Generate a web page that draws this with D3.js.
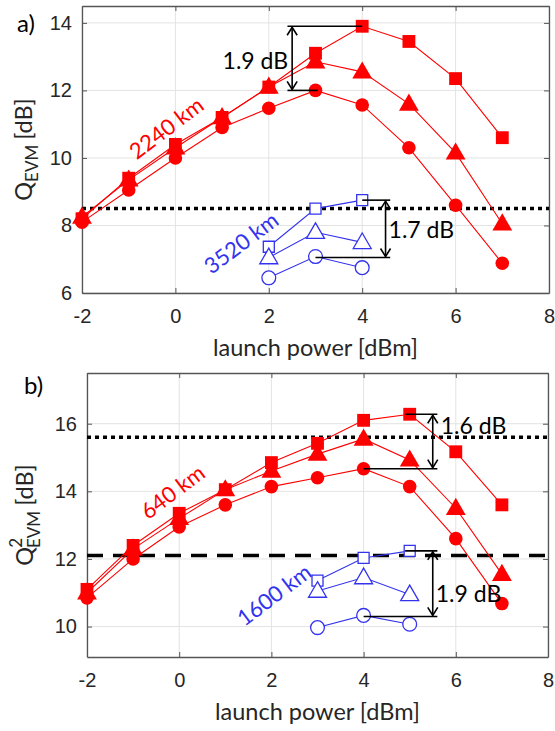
<!DOCTYPE html>
<html>
<head>
<meta charset="utf-8">
<script src="https://cdn.jsdelivr.net/npm/d3@7"></script>
<style>
  body { margin: 0; background: #fff; }
  text { font-family: "Liberation Sans", Arial, sans-serif; }
  .lbl { font-family: Lato, "Open Sans", sans-serif; }
</style>
</head>
<body>
<div id="chart"></div>
<script>
// launch powers [dBm]
const powerRed = [-2, -1, 0, 1, 2, 3, 4, 5, 6, 7];
const powerBlueA = [2, 3, 4];
const powerBlueB = [3, 4, 5];
const xTicks = [-2, 0, 2, 4, 6, 8];

// panel a) Q_EVM, 2240 km (red) and 3520 km (blue)
const a2240Square = [8.2, 9.4, 10.4, 11.2, 12.1, 13.1, 13.9, 13.45, 12.35, 10.6];
const a2240Tri = [8.25, 9.35, 10.3, 11.2, 12.1, 12.85, 12.55, 11.6, 10.15, 8.05];
const a2240Circle = [8.1, 9.05, 10.0, 10.9, 11.47, 12.0, 11.57, 10.3, 8.6, 6.88];
const a3520Square = [7.37, 8.5, 8.75];
const a3520Tri = [7.05, 7.8, 7.5];
const a3520Circle = [6.45, 7.08, 6.75];
const aTicks = [6, 8, 10, 12, 14];
const aLimit = 8.5;

// panel b) Q^2_EVM, 640 km (red) and 1600 km (blue)
const b640Square = [11.1, 12.4, 13.35, 14.05, 14.85, 15.42, 16.1, 16.28, 15.17, 13.6];
const b640Tri = [11.0, 12.3, 13.2, 14.05, 14.6, 15.1, 15.55, 14.93, 13.5, 11.55];
const b640Circle = [10.85, 12.0, 12.95, 13.6, 14.14, 14.4, 14.67, 14.14, 12.6, 10.68];
const b1600Square = [11.36, 12.03, 12.24];
const b1600Tri = [11.05, 11.45, 10.95];
const b1600Circle = [9.97, 10.33, 10.07];
const bTicks = [10, 12, 14, 16];
const bLimitDot = 15.6;
const bLimitDash = 12.1;

const W = 555, H = 731;
const red = "#ff0000", blue = "#3333ee";

const svg = d3.select("#chart").append("svg")
  .attr("width", W).attr("height", H);

function drawPanel(p) {
  const x = d3.scaleLinear().domain([-2, 8]).range([p.left, p.right]);
  const y = d3.scaleLinear().domain(p.yDomain).range([p.bottom, p.top]);
  const g = svg.append("g");

  // grid
  g.selectAll(".gx").data(xTicks).join("line")
    .attr("x1", d => x(d)).attr("x2", d => x(d))
    .attr("y1", p.top).attr("y2", p.bottom)
    .attr("stroke", "#e3e3e3").attr("stroke-width", 1);
  g.selectAll(".gy").data(p.yTicks).join("line")
    .attr("x1", p.left).attr("x2", p.right)
    .attr("y1", d => y(d)).attr("y2", d => y(d))
    .attr("stroke", "#e3e3e3").attr("stroke-width", 1);

  // axes (ticks inward, box on)
  const fmt = d => String(d); // plain hyphen minus like the original
  const ax = g.append("g").attr("transform", `translate(0,${p.bottom})`)
    .call(d3.axisBottom(x).tickValues(xTicks).tickFormat(fmt).tickSizeInner(-5).tickSizeOuter(0).tickPadding(16));
  const ay = g.append("g").attr("transform", `translate(${p.left},0)`)
    .call(d3.axisLeft(y).tickValues(p.yTicks).tickFormat(fmt).tickSizeInner(-5).tickSizeOuter(0).tickPadding(10));
  const axTop = g.append("g").attr("transform", `translate(0,${p.top})`)
    .call(d3.axisTop(x).tickValues(xTicks).tickSizeInner(-5).tickSizeOuter(0).tickFormat(""));
  const ayR = g.append("g").attr("transform", `translate(${p.right},0)`)
    .call(d3.axisRight(y).tickValues(p.yTicks).tickSizeInner(-5).tickSizeOuter(0).tickFormat(""));
  [ax, ay, axTop, ayR].forEach(a => {
    a.select(".domain").attr("stroke", "#555").attr("stroke-width", 1.3);
    a.selectAll(".tick line").attr("stroke", "#555");
    a.selectAll(".tick text").attr("font-size", 20).attr("fill", "#262626")
      .style("font-family", "'Liberation Sans', Arial, sans-serif");
  });

  // reference lines
  p.hlines.forEach(h => {
    g.append("line")
      .attr("x1", p.left).attr("x2", p.right)
      .attr("y1", y(h.v)).attr("y2", y(h.v))
      .attr("stroke", "#000").attr("stroke-width", 3.5)
      .attr("stroke-dasharray", h.dash);
  });

  // series
  const line = d3.line().x(d => x(d[0])).y(d => y(d[1]));
  p.series.forEach(s => {
    const pts = s.xs.map((v, i) => [v, s.ys[i]]);
    g.append("path").datum(pts)
      .attr("d", line).attr("fill", "none")
      .attr("stroke", s.color).attr("stroke-width", 1.1);
    const sym = d3.symbol().type(s.shape).size(s.size);
    g.selectAll(null).data(pts).join("path")
      .attr("d", sym)
      .attr("transform", d => `translate(${x(d[0])},${y(d[1]) + (s.shape === d3.symbolTriangle ? 1 : 0)})`)
      .attr("fill", s.filled ? s.color : "#fff")
      .attr("stroke", s.color).attr("stroke-width", s.filled ? 0 : 1.3);
  });

  // dB difference annotations
  p.arrows.forEach(a => {
    const xa = x(a.x);
    g.append("line").attr("x1", x(a.top[0])).attr("x2", x(a.top[1]))
      .attr("y1", y(a.y1)).attr("y2", y(a.y1)).attr("stroke", "#000").attr("stroke-width", 1.6);
    g.append("line").attr("x1", x(a.bot[0])).attr("x2", x(a.bot[1]))
      .attr("y1", y(a.y0)).attr("y2", y(a.y0)).attr("stroke", "#000").attr("stroke-width", 1.6);
    g.append("line").attr("x1", xa).attr("x2", xa)
      .attr("y1", y(a.y1) + 1).attr("y2", y(a.y0) - 1).attr("stroke", "#000").attr("stroke-width", 1.6);
    const yt = y(a.y1), yb = y(a.y0);
    g.append("path").attr("d", `M${xa - 5},${yt + 9}L${xa},${yt + 1}L${xa + 5},${yt + 9}`)
      .attr("fill", "none").attr("stroke", "#000").attr("stroke-width", 1.6);
    g.append("path").attr("d", `M${xa - 5},${yb - 9}L${xa},${yb - 1}L${xa + 5},${yb - 9}`)
      .attr("fill", "none").attr("stroke", "#000").attr("stroke-width", 1.6);
    g.append("text").attr("class", "lbl")
      .attr("x", xa + a.dx).attr("y", y(a.ty))
      .attr("text-anchor", a.anchor).attr("dominant-baseline", "central")
      .attr("font-size", 23).attr("fill", "#000").text(a.label);
  });

  // distance labels
  p.dist.forEach(t => {
    g.append("text").attr("class", "lbl")
      .attr("transform", `translate(${x(t.x)},${y(t.y)}) rotate(-37)`)
      .attr("text-anchor", "middle").attr("dominant-baseline", "central")
      .attr("font-size", 22).attr("fill", t.color).text(t.label);
  });

  // x label
  g.append("text").attr("class", "lbl")
    .attr("x", (p.left + p.right) / 2).attr("y", p.bottom + 63)
    .attr("text-anchor", "middle").attr("font-size", 23.5).attr("fill", "#262626")
    .text("launch power [dBm]");

  // y label
  const yl = g.append("text").attr("class", "lbl")
    .attr("transform", `translate(${p.left - p.ylabOff},${(p.top + p.bottom) / 2}) rotate(-90)`)
    .attr("text-anchor", "middle").attr("font-size", 23.5).attr("fill", "#262626");
  yl.append("tspan").text("Q");
  if (p.squared) {
    yl.append("tspan").attr("font-size", 17).attr("dx", -1).attr("dy", -11).text("2");
    yl.append("tspan").attr("font-size", 17).attr("dx", -10).attr("dy", 18).text("EVM");
    yl.append("tspan").attr("dx", 5).attr("dy", -7).text("[dB]");
  } else {
    yl.append("tspan").attr("font-size", 17).attr("dy", 6).text("EVM");
    yl.append("tspan").attr("dx", 5).attr("dy", -6).text("[dB]");
  }

  // panel tag
  g.append("text").attr("class", "lbl")
    .attr("x", p.tag[0]).attr("y", p.tag[1])
    .attr("font-size", 24).attr("fill", "#000").text(p.tagText);
}

drawPanel({
  left: 82, right: 549, top: 6, bottom: 293, ylabOff: 50,
  yDomain: [6, 14.5], yTicks: aTicks,
  hlines: [{ v: aLimit, dash: "4,4" }],
  series: [
    { xs: powerRed, ys: a2240Square, shape: d3.symbolSquare, size: 165, color: red, filled: true },
    { xs: powerRed, ys: a2240Tri, shape: d3.symbolTriangle, size: 170, color: red, filled: true },
    { xs: powerRed, ys: a2240Circle, shape: d3.symbolCircle, size: 145, color: red, filled: true },
    { xs: powerBlueA, ys: a3520Square, shape: d3.symbolSquare, size: 121, color: blue, filled: false },
    { xs: powerBlueA, ys: a3520Tri, shape: d3.symbolTriangle, size: 140, color: blue, filled: false },
    { xs: powerBlueA, ys: a3520Circle, shape: d3.symbolCircle, size: 150, color: blue, filled: false }
  ],
  arrows: [
    { x: 2.5, y1: 13.9, y0: 12.0, top: [2.4, 4], bot: [2.4, 3.05], ty: 12.9, dx: -4, anchor: "end", label: "1.9 dB" },
    { x: 4.5, y1: 8.75, y0: 7.05, top: [4, 4.6], bot: [3, 4.6], ty: 7.9, dx: 3, anchor: "start", label: "1.7 dB" }
  ],
  dist: [
    { x: -0.2, y: 10.9, color: red, label: "2240 km" },
    { x: 1.4, y: 7.5, color: blue, label: "3520 km" }
  ],
  squared: false,
  tag: [17, 32], tagText: "a)"
});

drawPanel({
  left: 87, right: 548, top: 373, bottom: 657, ylabOff: 54,
  yDomain: [9.1, 17.5], yTicks: bTicks,
  hlines: [{ v: bLimitDot, dash: "4,4" }, { v: bLimitDash, dash: "16,10" }],
  series: [
    { xs: powerRed, ys: b640Square, shape: d3.symbolSquare, size: 165, color: red, filled: true },
    { xs: powerRed, ys: b640Tri, shape: d3.symbolTriangle, size: 170, color: red, filled: true },
    { xs: powerRed, ys: b640Circle, shape: d3.symbolCircle, size: 145, color: red, filled: true },
    { xs: powerBlueB, ys: b1600Square, shape: d3.symbolSquare, size: 121, color: blue, filled: false },
    { xs: powerBlueB, ys: b1600Tri, shape: d3.symbolTriangle, size: 140, color: blue, filled: false },
    { xs: powerBlueB, ys: b1600Circle, shape: d3.symbolCircle, size: 150, color: blue, filled: false }
  ],
  arrows: [
    { x: 5.5, y1: 16.28, y0: 14.67, top: [4.9, 5.6], bot: [4, 5.6], ty: 15.95, dx: 8, anchor: "start", label: "1.6 dB" },
    { x: 5.5, y1: 12.24, y0: 10.3, top: [4.9, 5.6], bot: [4, 5.6], ty: 11.0, dx: 3, anchor: "start", label: "1.9 dB" }
  ],
  dist: [
    { x: -0.15, y: 14.0, color: red, label: "640 km" },
    { x: 2.05, y: 10.95, color: blue, label: "1600 km" }
  ],
  squared: true,
  tag: [24, 394], tagText: "b)"
});
</script>
</body>
</html>
